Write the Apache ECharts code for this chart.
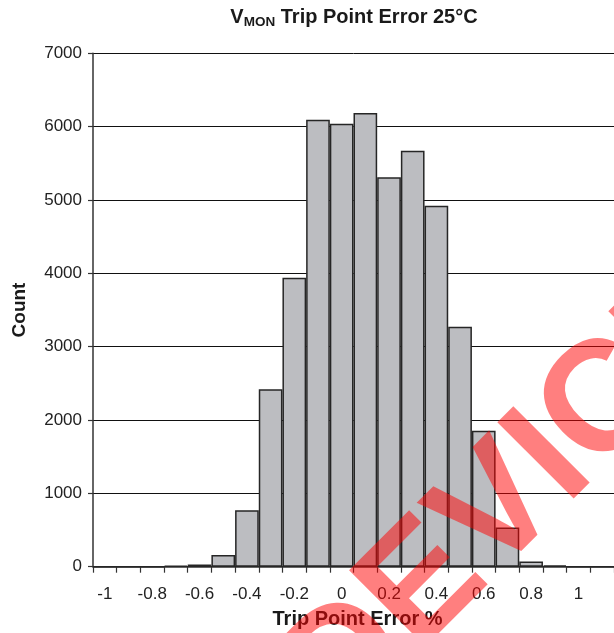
<!DOCTYPE html>
<html>
<head>
<meta charset="utf-8">
<script src="https://cdn.jsdelivr.net/npm/echarts@6/dist/echarts.min.js"></script>
<style>
html,body{margin:0;padding:0;background:#fff;}
#chart{width:614px;height:633px;}
</style>
</head>
<body>
<div id="chart"></div>
<script>
const categories = ['-1','-0.9','-0.8','-0.7','-0.6','-0.5','-0.4','-0.3','-0.2','-0.1','0','0.1','0.2','0.3','0.4','0.5','0.6','0.7','0.8','0.9','1','1.1'];
const counts = [0,0,0,15,30,160,770,2420,3940,6095,6040,6185,5310,5670,4920,3270,1855,535,70,17,0,0];
const yMin = 0, yMax = 7000, yStep = 1000;
const FONT = '"Liberation Sans", Arial, Helvetica, sans-serif';

const chart = echarts.init(document.getElementById('chart'), null, {renderer:'canvas'});
chart.setOption({
  animation: false,
  backgroundColor: '#ffffff',
  title: {
    text: '{m|V}{s|MON}{m| Trip Point Error 25°C}',
    left: 354, top: 5, textAlign: 'center', padding: 0,
    textStyle: {
      rich: {
        m: {fontSize: 20, fontWeight: 'bold', fontFamily: FONT, color: '#1a1a1a', lineHeight: 24, verticalAlign: 'middle'},
        s: {fontSize: 13.5, fontWeight: 'bold', fontFamily: FONT, color: '#1a1a1a', lineHeight: 12, verticalAlign: 'bottom'}
      }
    }
  },
  grid: {left: 93, right: 0, top: 53.3, bottom: 66.3, containLabel: false, outerBoundsMode: 'none'},
  xAxis: {
    type: 'category',
    data: categories,
    boundaryGap: true,
    name: 'Trip Point Error %',
    nameLocation: 'middle',
    nameGap: 43,
    nameTextStyle: {fontSize: 20, fontWeight: 'bold', fontFamily: FONT, color: '#1a1a1a', padding: [0,0,0,8]},
    axisLine: {lineStyle: {color: '#333', width: 1.5}},
    axisTick: {show: true, interval: 0, length: 6, lineStyle: {color: '#333', width: 1.2}},
    axisLabel: {interval: 1, fontSize: 17, fontFamily: FONT, color: '#222', margin: 19},
    splitLine: {show: false}
  },
  yAxis: {
    type: 'value',
    min: yMin, max: yMax, interval: yStep,
    name: 'Count',
    nameLocation: 'middle',
    nameRotate: 90,
    nameGap: 64,
    nameTextStyle: {fontSize: 19, fontWeight: 'bold', fontFamily: FONT, color: '#1a1a1a'},
    axisLine: {show: true, lineStyle: {color: '#333', width: 1.5}},
    axisTick: {show: true, length: 5, lineStyle: {color: '#333', width: 1.2}},
    axisLabel: {fontSize: 17, fontFamily: FONT, color: '#222', margin: 11, formatter: function (v) { return String(v); }},
    splitLine: {show: true, lineStyle: {color: '#111', width: 1}}
  },
  series: [{
    type: 'bar',
    data: counts,
    barWidth: '100%',
    barCategoryGap: '0%',
    itemStyle: {color: '#bcbdc1', borderColor: '#262626', borderWidth: 1.5}
  }],
  graphic: [{
    type: 'text',
    x: 514, y: 497,
    rotation: 45 * Math.PI / 180,
    z: 100,
    silent: true,
    style: {
      text: 'DEVICE',
      font: 'bold 157px ' + FONT,
      fill: 'rgba(255,0,0,0.5)',
      align: 'center',
      verticalAlign: 'middle'
    }
  }]
});
</script>
</body>
</html>
